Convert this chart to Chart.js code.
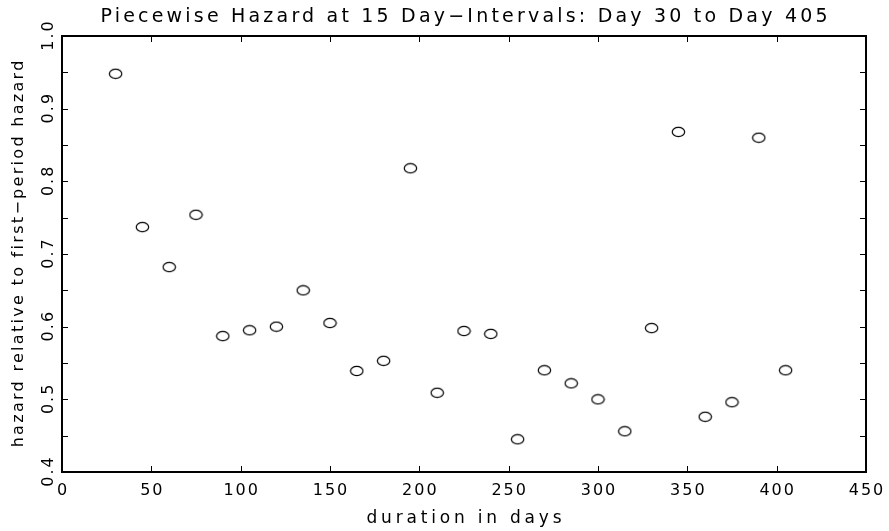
<!DOCTYPE html>
<html>
<head>
<meta charset="utf-8">
<script src="https://cdn.jsdelivr.net/npm/chart.js@4.4.1/dist/chart.umd.min.js"></script>
<style>
  html, body { margin: 0; padding: 0; background: #fff; }
  #c { display: block; }
</style>
</head>
<body>
<canvas id="c" width="889" height="531"></canvas>
<script>
// --- Data ---
const days = [30, 45, 60, 75, 90, 105, 120, 135, 150, 165, 180, 195, 210,
              225, 240, 255, 270, 285, 300, 315, 330, 345, 360, 375, 390, 405];
const hazard = [0.948, 0.737, 0.682, 0.754, 0.587, 0.595, 0.600, 0.650, 0.605,
                0.539, 0.553, 0.818, 0.509, 0.594, 0.590, 0.445, 0.540, 0.522,
                0.500, 0.456, 0.598, 0.868, 0.476, 0.496, 0.860, 0.540];
const xTicks = [0, 50, 100, 150, 200, 250, 300, 350, 400, 450];
const yTickLabels = ['0.4', '0.5', '0.6', '0.7', '0.8', '0.9', '1.0'];
const yTickMarks = [0.4, 0.45, 0.5, 0.55, 0.6, 0.65, 0.7, 0.75, 0.8, 0.85, 0.9, 0.95, 1.0];

const titleText = 'Piecewise Hazard at 15 Day\u2212Intervals: Day 30 to Day 405';
const xTitle = 'duration in days';
const yTitle = 'hazard relative to first\u2212period hazard';

const FONT = '"DejaVu Sans", sans-serif';

// --- Open ellipse marker ---
function ellipseMarker() {
  const c = document.createElement('canvas');
  c.width = 15; c.height = 12;
  const g = c.getContext('2d');
  g.strokeStyle = '#000';
  g.lineWidth = 1.2;
  g.beginPath();
  g.ellipse(7.5, 6, 6.2, 4.7, 0, 0, Math.PI * 2);
  g.stroke();
  return c;
}

// centered text helper: letterSpacing adds a trailing gap, so shift by half of it
function spacedText(ctx, text, x, y, spacing) {
  ctx.letterSpacing = spacing + 'px';
  ctx.fillText(text, x + spacing / 2, y);
}

// --- Frame, inward ticks and all text ---
const framePlugin = {
  id: 'frame',
  afterDraw(chart) {
    const ctx = chart.ctx;
    const a = chart.chartArea;
    const x = chart.scales.x;
    const y = chart.scales.y;

    ctx.save();
    ctx.strokeStyle = '#000';
    ctx.lineWidth = 2;
    ctx.strokeRect(a.left, a.top, a.right - a.left, a.bottom - a.top);

    // tick marks
    ctx.lineWidth = 1;
    ctx.beginPath();
    xTicks.forEach(v => {
      const px = Math.round(x.getPixelForValue(v)) + 0.5;
      ctx.moveTo(px, a.bottom); ctx.lineTo(px, a.bottom - 6);
      ctx.moveTo(px, a.top); ctx.lineTo(px, a.top + 6);
    });
    yTickMarks.forEach(v => {
      const py = Math.round(y.getPixelForValue(v)) + 0.5;
      ctx.moveTo(a.left, py); ctx.lineTo(a.left + 6, py);
      ctx.moveTo(a.right, py); ctx.lineTo(a.right - 6, py);
    });
    ctx.stroke();

    ctx.fillStyle = '#000';
    ctx.textAlign = 'center';
    ctx.textBaseline = 'alphabetic';
    const cx = (a.left + a.right) / 2;

    // title
    ctx.font = '19px ' + FONT;
    spacedText(ctx, titleText, cx, 22, 3.2);

    // x tick labels
    ctx.font = '16px ' + FONT;
    xTicks.forEach(v => {
      spacedText(ctx, String(v), x.getPixelForValue(v), 495, 2);
    });

    // x title
    ctx.font = '17px ' + FONT;
    spacedText(ctx, xTitle, cx, 523, 3.8);

    // y tick labels (rotated)
    ctx.font = '16px ' + FONT;
    yTickLabels.forEach(t => {
      const py = y.getPixelForValue(parseFloat(t));
      ctx.save();
      ctx.translate(53, py);
      ctx.rotate(-Math.PI / 2);
      spacedText(ctx, t, 0, 0, 2);
      ctx.restore();
    });

    // y title
    ctx.font = '16px ' + FONT;
    ctx.save();
    ctx.translate(23, (a.top + a.bottom) / 2);
    ctx.rotate(-Math.PI / 2);
    spacedText(ctx, yTitle, 0, 0, 2.3);
    ctx.restore();

    ctx.restore();
  }
};

new Chart(document.getElementById('c'), {
  type: 'scatter',
  data: {
    datasets: [{
      data: days.map((d, i) => ({ x: d, y: hazard[i] })),
      pointStyle: ellipseMarker(),
      pointRadius: 6,
      showLine: false
    }]
  },
  options: {
    responsive: false,
    animation: false,
    layout: { padding: { left: 62, top: 36, right: 23, bottom: 59 } },
    plugins: {
      legend: { display: false },
      tooltip: { enabled: false },
      title: { display: false }
    },
    scales: {
      x: { type: 'linear', min: 0, max: 450, display: false },
      y: { type: 'linear', min: 0.4, max: 1.0, display: false }
    }
  },
  plugins: [framePlugin]
});
</script>
</body>
</html>
